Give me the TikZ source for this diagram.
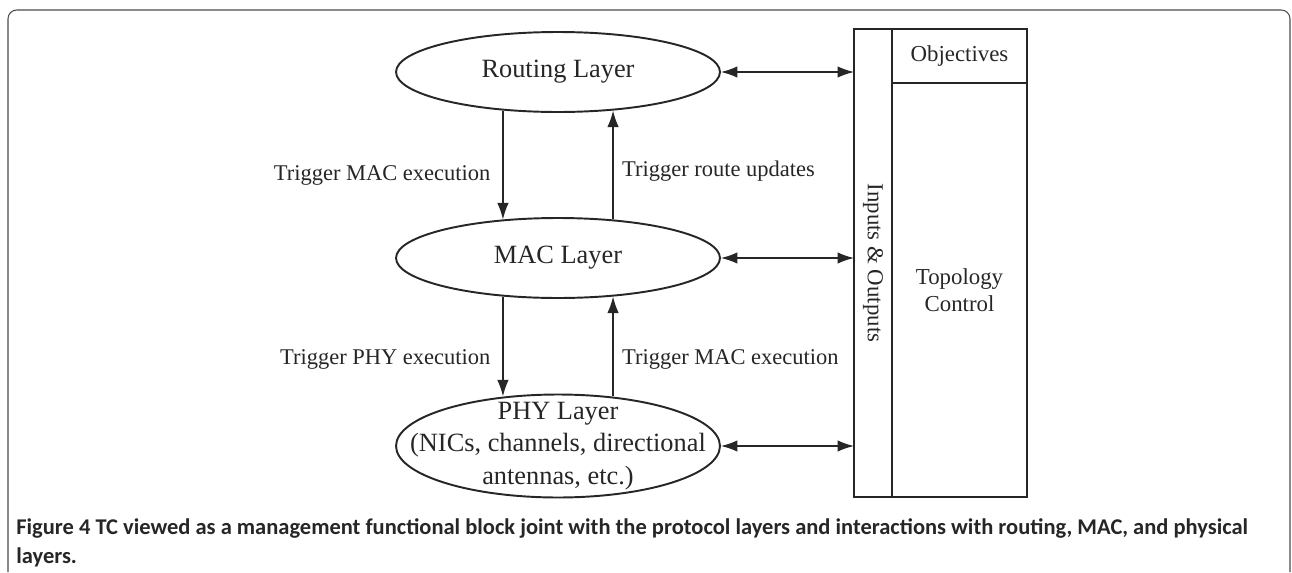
\documentclass[tikz,border=0pt]{standalone}
\usepackage{fontspec}
\setmainfont{Liberation Serif}
\newfontfamily\capfont{Carlito}
\usetikzlibrary{arrows.meta,shapes.geometric,positioning}

\begin{document}
\begin{tikzpicture}[x=0.02cm,y=-0.02cm,
  layer/.style={draw=black!85,line width=1.1pt,ellipse,minimum width=6.48cm,minimum height=1.6cm,inner sep=0pt,font=\fontsize{15}{18.2}\selectfont,text=black!85},
  trig/.style={font=\fontsize{12.8}{15}\selectfont,text=black!85},
  block/.style={draw=black!85,line width=1.1pt,rectangle,inner sep=0pt,outer sep=0pt,align=center,font=\fontsize{13}{15.6}\selectfont,text=black!85},
  link/.style={draw=black!85,line width=0.8pt,-{Latex[length=3.3mm,width=2.3mm]}},
  both/.style={link,{Latex[length=3.3mm,width=2.3mm]}-{Latex[length=3.3mm,width=2.3mm]}}]

\useasboundingbox (0,0) rectangle (1292,572);
% page frame
\draw [black!70,line width=0.6pt,rounded corners=5pt] (8,572) -- (8,10) -- (1290,10) -- (1290,572);

% protocol layers
\node [layer] (routing) at (558,72) {Routing Layer};
\node [layer] (mac) at (558,258) {MAC Layer};
\node [layer,minimum height=2.06cm,label={[align=center,font=\fontsize{15}{18.4}\selectfont,text=black!85]center:PHY Layer\\(NICs, channels, directional\\antennas, etc.)}] (phy) at (558,446) {};

% TC block
\node [block,rotate=-90,minimum width=9.36cm,minimum height=0.76cm] (io) at (873,263) {Inputs \& Outputs};
\node [block,minimum width=2.7cm,minimum height=1.08cm] (obj) at (959.5,56) {Objectives};
\node [block,minimum width=2.7cm,minimum height=8.28cm] (tc) at (959.5,290) {Topology\\Control};

% triggers between layers
\draw [link] (routing.215) -- node [trig,left=0.12cm,pos=0.6] {Trigger MAC execution} (mac.145);
\draw [link] (mac.35) -- node [trig,right=0.05cm,pos=0.44] {Trigger route updates} (routing.325);
\draw [link] (mac.215) -- node [trig,left=0.12cm,pos=0.63] {Trigger PHY execution} (mac.215 |- phy.137);
\draw [link] (mac.325 |- phy.43) -- node [trig,right=0.05cm,pos=0.37] {Trigger MAC execution} (mac.325);

% links to TC
\draw [both] (routing.east) -- (routing.east -| io.south);
\draw [both] (mac.east) -- (mac.east -| io.south);
\draw [both] (phy.east) -- (phy.east -| io.south);

\node [anchor=north west,align=left,inner sep=0pt,font=\capfont\bfseries\fontsize{12.8}{16.8}\selectfont,text=black!85] (caption) at (16,518) {Figure 4 TC viewed as a management functional block joint with the protocol layers and interactions with routing, MAC, and physical\\layers.};
\end{tikzpicture}
\end{document}
